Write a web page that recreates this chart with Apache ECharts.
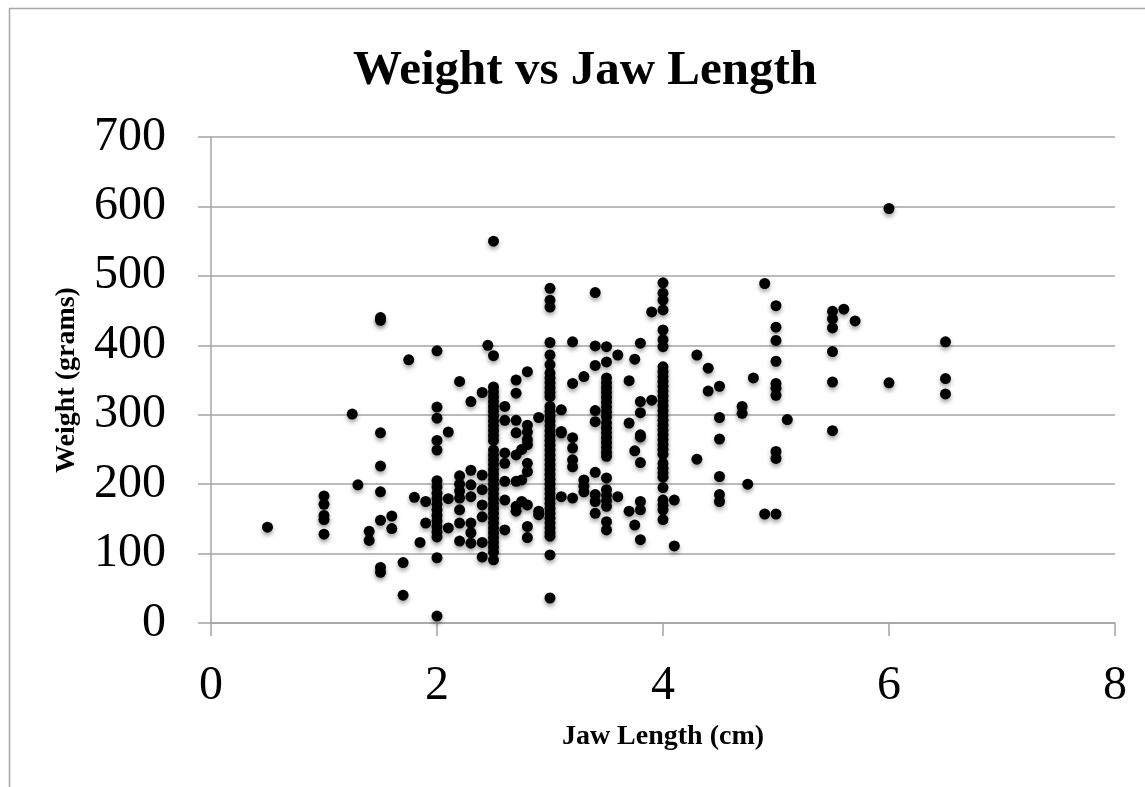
<!DOCTYPE html>
<html>
<head>
<meta charset="utf-8">
<title>Weight vs Jaw Length</title>
<script src="https://cdn.jsdelivr.net/npm/echarts@6/dist/echarts.min.js"></script>
<style>
    html, body { margin: 0; padding: 0; background: #fff; }
    #chart { width: 1145px; height: 787px; }
</style>
</head>
<body>
<div id="chart"></div>
<script>
    const jawLengths = [0.5, 1, 1.25, 1.3, 1.4, 1.5, 1.6, 1.7, 1.75, 1.8, 1.85, 1.9,
        2, 2.1, 2.2, 2.3, 2.4, 2.45, 2.5, 2.6, 2.7, 2.75, 2.8, 2.9,
        3, 3.1, 3.2, 3.3, 3.4, 3.5, 3.6, 3.7, 3.75, 3.8, 3.9,
        4, 4.1, 4.3, 4.4, 4.5, 4.7, 4.75, 4.8, 4.9, 5, 5.1, 5.5, 5.6, 5.7, 6, 6.5];

    const weights = [
        [138],
        [183, 171, 155, 149, 128],
        [301],
        [199],
        [132, 119],
        [440, 436, 274, 226, 189, 148, 80, 73],
        [154, 136],
        [87, 40],
        [379],
        [181],
        [116],
        [175, 144],
        [392, 311, 295, 263, 249, 205, 196, 187, 179, 171, 163, 155, 147, 139, 131, 124, 94, 10],
        [275, 179, 137],
        [348, 212, 200, 190, 180, 163, 144, 118],
        [319, 220, 199, 182, 144, 130, 115],
        [332, 213, 192, 170, 153, 116, 95],
        [400],
        [550, 385, 340, 333, 326, 319, 312, 305, 298, 291, 284, 277, 270, 263,
            249, 242, 235, 228, 221, 214, 207, 200, 193, 186, 179, 172, 165, 158,
            151, 144, 137, 130, 123, 116, 109, 102, 91],
        [312, 292, 245, 230, 204, 177, 134],
        [350, 331, 292, 274, 242, 204, 168, 161],
        [250, 206, 175],
        [362, 285, 275, 264, 257, 230, 218, 170, 139, 123],
        [296, 161, 156],
        [482, 465, 455, 404, 386, 372, 360, 353, 346, 339, 332, 326,
            312, 305, 298, 291, 284, 277, 270, 263, 256, 249, 242, 235, 228, 221,
            214, 207, 200, 193, 186, 179, 172, 165, 158, 151, 144, 137, 130, 125, 98, 36],
        [307, 276, 274, 182],
        [405, 345, 267, 252, 235, 225, 180],
        [355, 206, 197, 189],
        [476, 399, 371, 306, 290, 217, 185, 175, 158],
        [398, 376, 353, 346, 339, 332, 325, 318, 311, 304, 297,
            288, 281, 274, 267, 260, 253, 246, 240, 209, 192, 184, 176, 168, 146, 134],
        [386, 182],
        [349, 288, 161],
        [380, 248, 141],
        [403, 319, 303, 271, 268, 231, 175, 163, 120],
        [448, 321],
        [490, 475, 465, 451, 422, 408, 398, 369, 362, 355, 348, 341, 334, 327, 320,
            313, 306, 299, 292, 285, 278, 271, 264, 257, 250, 243, 230, 223, 216,
            210, 195, 177, 170, 163, 149],
        [177, 111],
        [386, 236],
        [367, 334],
        [341, 296, 265, 211, 185, 175],
        [312, 302],
        [200],
        [353],
        [489, 157],
        [457, 426, 407, 377, 345, 338, 328, 247, 237, 157],
        [293],
        [449, 438, 425, 391, 347, 277],
        [452],
        [435],
        [597, 346],
        [405, 352, 330]
    ];

    const xTicks = [0, 2, 4, 6, 8];
    const yTicks = [0, 100, 200, 300, 400, 500, 600, 700];

    const points = [];
    jawLengths.forEach((x, i) => {
        weights[i].forEach(y => points.push([x, y]));
    });

    const chart = echarts.init(document.getElementById("chart"));
    const gray = "#a4a4a4";
    const serif = "'Liberation Serif', 'Times New Roman', serif";

    const option = {
        animation: false,
        backgroundColor: "#fff",
        grid: {
            left: 211,
            right: 30,
            top: 137,
            bottom: 164
        },
        graphic: [
            {
                // outer chart frame (only left and top edges are visible)
                type: "polyline",
                shape: { points: [[9.5, 787], [9.5, 8.5], [1145, 8.5]] },
                style: { stroke: "#a8a8a8", lineWidth: 1.5, fill: null }
            },
            {
                type: "text",
                x: 585,
                y: 47,
                style: {
                    text: "Weight vs Jaw Length",
                    font: "bold 49px " + serif,
                    fill: "#000",
                    textAlign: "center",
                    textVerticalAlign: "top"
                }
            }
        ],
        xAxis: {
            type: "value",
            min: xTicks[0],
            max: xTicks[xTicks.length - 1],
            interval: 2,
            name: "Jaw Length (cm)",
            nameLocation: "middle",
            nameGap: 100,
            nameTextStyle: {
                fontFamily: serif,
                fontWeight: "bold",
                fontSize: 28,
                color: "#000"
            },
            axisLine: { show: true, lineStyle: { color: gray, width: 1.5 } },
            axisTick: { show: true, length: 13, lineStyle: { color: gray, width: 1.5 } },
            splitLine: { show: false },
            axisLabel: {
                margin: 39,
                fontFamily: serif,
                fontSize: 48,
                color: "#000"
            }
        },
        yAxis: {
            type: "value",
            min: yTicks[0],
            max: yTicks[yTicks.length - 1],
            interval: 100,
            name: "Weight (grams)",
            nameLocation: "middle",
            nameGap: 130,
            nameRotate: 90,
            nameTextStyle: {
                fontFamily: serif,
                fontWeight: "bold",
                fontSize: 28,
                color: "#000"
            },
            axisLine: { show: true, lineStyle: { color: gray, width: 1.5 } },
            axisTick: { show: true, length: 13, lineStyle: { color: gray, width: 1.5 } },
            splitLine: { show: true, lineStyle: { color: gray, width: 1.5 } },
            axisLabel: {
                margin: 45,
                fontFamily: serif,
                fontSize: 48,
                color: "#000"
            }
        },
        series: [
            {
                type: "scatter",
                data: points,
                symbol: "circle",
                symbolSize: 11,
                itemStyle: {
                    color: "#000",
                    opacity: 1,
                    shadowColor: "rgba(0,0,0,0.35)",
                    shadowBlur: 4,
                    shadowOffsetY: 3
                }
            }
        ]
    };
    chart.setOption(option);
</script>
</body>
</html>
